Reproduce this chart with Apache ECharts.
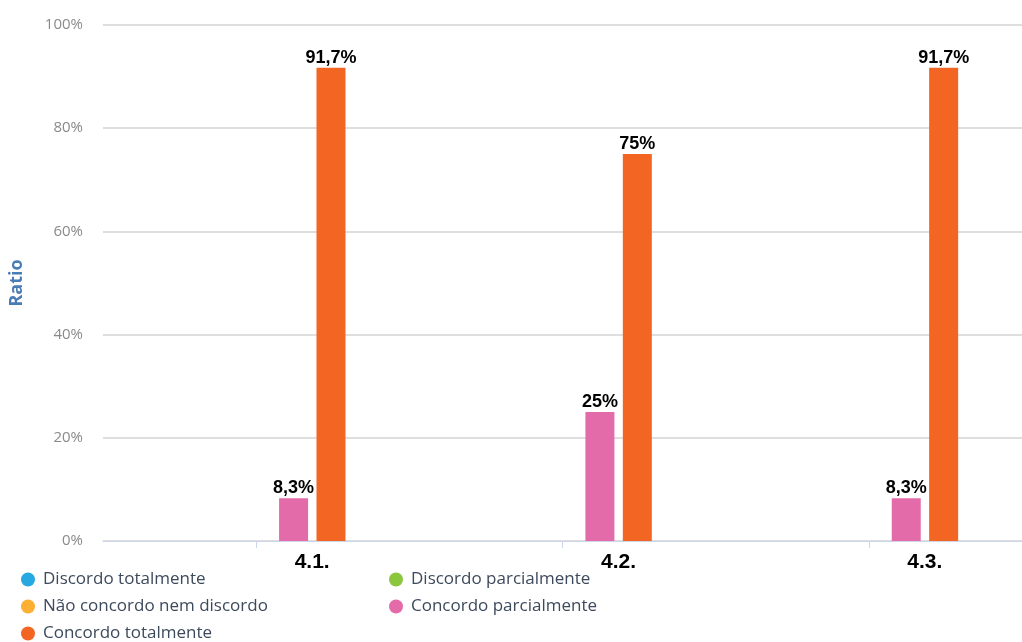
<!DOCTYPE html>
<html>
<head>
<meta charset="utf-8">
<script src="https://cdn.jsdelivr.net/npm/echarts@6/dist/echarts.min.js"></script>
<style>
  html, body { margin: 0; padding: 0; background: #fff; }
  #chart { width: 1022px; height: 642px; }
</style>
</head>
<body>
<div id="chart"></div>
<script>
// Questions on the x axis
const categories = ['4.1.', '4.2.', '4.3.'];

// Answer shares (%) per question, one array per answer option
const discordoTotalmente = [0, 0, 0];
const discordoParcialmente = [0, 0, 0];
const naoConcordoNemDiscordo = [0, 0, 0];
const concordoParcialmente = [8.3, 25, 8.3];
const concordoTotalmente = [91.7, 75, 91.7];

const seriesNames = [
  'Discordo totalmente',
  'Discordo parcialmente',
  'Não concordo nem discordo',
  'Concordo parcialmente',
  'Concordo totalmente'
];
const seriesData = [
  discordoTotalmente,
  discordoParcialmente,
  naoConcordoNemDiscordo,
  concordoParcialmente,
  concordoTotalmente
];
const seriesColors = ['#27a8e0', '#8cc63f', '#fbb034', '#e46ba9', '#f26522'];

// Y axis tick values
const yTicks = [0, 20, 40, 60, 80, 100];

const labelFont = '"Liberation Sans Narrow", "Arial Narrow", "Liberation Sans", Arial, sans-serif';
const uiFont = '"Open Sans", "Noto Sans", sans-serif';

const chart = echarts.init(document.getElementById('chart'), null, { renderer: 'canvas' });

const fmtPct = v => String(v).replace('.', ',') + '%';

const series = seriesNames.map((name, i) => ({
  name: name,
  type: 'bar',
  data: seriesData[i],
  barWidth: 29,
  barGap: '29%',
  itemStyle: { color: seriesColors[i] },
  label: {
    show: true,
    position: 'top',
    distance: 1,
    color: '#000',
    fontFamily: labelFont,
    fontWeight: 'bold',
    fontSize: 18,
    formatter: p => (p.value ? fmtPct(p.value) : '')
  },
  emphasis: { disabled: true }
}));

// Legend laid out in two columns, one component per entry
const legendPos = [
  [16, 566], [384, 566],
  [16, 593], [384, 593],
  [16, 620]
];
const legends = seriesNames.map((name, i) => ({
  data: [{ name: name, icon: 'circle' }],
  left: legendPos[i][0],
  top: legendPos[i][1],
  itemWidth: 14,
  itemHeight: 14,
  itemGap: 6,
  selectedMode: false,
  textStyle: {
    color: '#3d4a5c',
    fontFamily: uiFont,
    fontSize: 17,
    padding: [0, 0, 0, 3]
  }
}));

chart.setOption({
  animation: false,
  backgroundColor: '#fff',
  grid: { left: 103, top: 25, width: 926, height: 516, containLabel: false },
  legend: legends,
  xAxis: {
    type: 'category',
    data: categories,
    axisLine: { show: true, lineStyle: { color: '#ccd6eb', width: 1 } },
    axisTick: { show: true, alignWithLabel: true, length: 7, lineStyle: { color: '#ccd6eb' } },
    axisLabel: {
      color: '#000',
      fontFamily: labelFont,
      fontWeight: 'bold',
      fontSize: 21,
      margin: 11,
      padding: [0, 0, 0, 112]
    }
  },
  yAxis: {
    type: 'value',
    min: yTicks[0],
    max: yTicks[yTicks.length - 1],
    interval: 20,
    name: 'Ratio',
    nameLocation: 'middle',
    nameGap: 77,
    nameRotate: 90,
    nameTextStyle: { color: '#4a7cb5', fontFamily: uiFont, fontWeight: 'bold', fontSize: 18 },
    axisLine: { show: false },
    axisTick: { show: false },
    axisLabel: {
      color: '#8a8a8a',
      fontFamily: uiFont,
      fontSize: 15,
      margin: 20,
      formatter: v => v + '%'
    },
    splitLine: { lineStyle: { color: '#dedede', width: 2 } }
  },
  series: series
});
</script>
</body>
</html>
